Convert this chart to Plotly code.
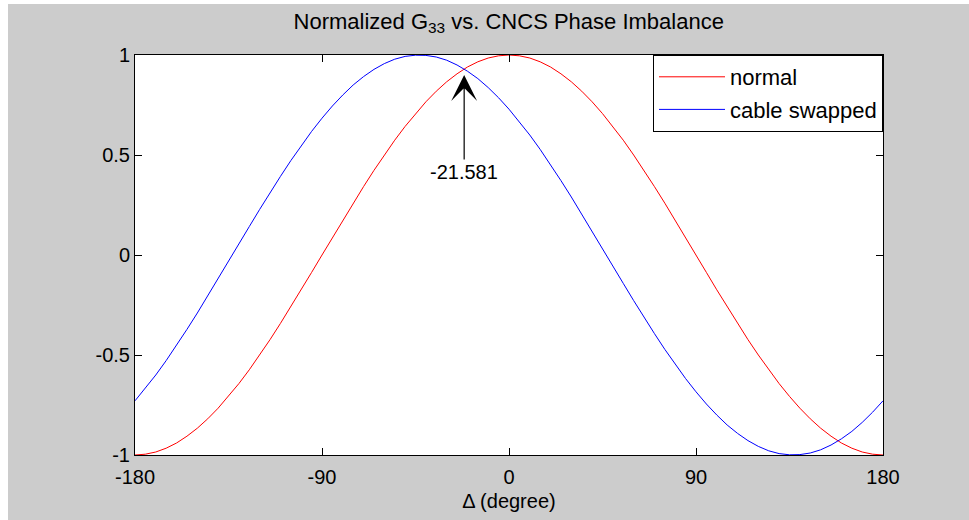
import plotly.graph_objects as go

# Phase imbalance Delta (degree)
delta = [-180, -175, -170, -165, -160, -155, -150, -145, -140, -135, -130, -125,
         -120, -115, -110, -105, -100, -95, -90, -85, -80, -75, -70, -65,
         -60, -55, -50, -45, -40, -35, -30, -25, -20, -15, -10, -5,
         0, 5, 10, 15, 20, 25, 30, 35, 40, 45, 50, 55,
         60, 65, 70, 75, 80, 85, 90, 95, 100, 105, 110, 115,
         120, 125, 130, 135, 140, 145, 150, 155, 160, 165, 170, 175, 180]

normal = [-1.000, -0.996, -0.985, -0.966, -0.940, -0.906, -0.866, -0.819, -0.766, -0.707, -0.643, -0.574,
          -0.500, -0.423, -0.342, -0.259, -0.174, -0.087, 0.000, 0.087, 0.174, 0.259, 0.342, 0.423,
          0.500, 0.574, 0.643, 0.707, 0.766, 0.819, 0.866, 0.906, 0.940, 0.966, 0.985, 0.996,
          1.000, 0.996, 0.985, 0.966, 0.940, 0.906, 0.866, 0.819, 0.766, 0.707, 0.643, 0.574,
          0.500, 0.423, 0.342, 0.259, 0.174, 0.087, 0.000, -0.087, -0.174, -0.259, -0.342, -0.423,
          -0.500, -0.574, -0.643, -0.707, -0.766, -0.819, -0.866, -0.906, -0.940, -0.966, -0.985, -0.996, -1.000]

cable_swapped = [-0.729, -0.667, -0.600, -0.528, -0.452, -0.372, -0.290, -0.205, -0.119, -0.032, 0.055, 0.142,
                 0.228, 0.312, 0.393, 0.472, 0.547, 0.618, 0.684, 0.745, 0.800, 0.850, 0.892, 0.928,
                 0.957, 0.979, 0.993, 0.999, 0.998, 0.990, 0.974, 0.950, 0.919, 0.882, 0.837, 0.786,
                 0.729, 0.667, 0.600, 0.528, 0.452, 0.372, 0.290, 0.205, 0.119, 0.032, -0.055, -0.142,
                 -0.228, -0.312, -0.393, -0.472, -0.547, -0.618, -0.684, -0.745, -0.800, -0.850, -0.892, -0.928,
                 -0.957, -0.979, -0.993, -0.999, -0.998, -0.990, -0.974, -0.950, -0.919, -0.882, -0.837, -0.786, -0.729]

x_ticks = [-180, -90, 0, 90, 180]
x_ticktext = ["-180", "-90", "0", "90", "180"]
y_ticks = [-1, -0.5, 0, 0.5, 1]
y_ticktext = ["-1", "-0.5", "0", "0.5", "1"]

cross_x = -21.581
cross_y = 0.930
label_y = 0.415

FONT = "Liberation Sans, Arial, Helvetica, sans-serif"

fig = go.Figure()
fig.add_trace(go.Scatter(x=delta, y=normal, mode="lines", name="normal",
                         legendgroup="a", line=dict(color="#ff0000", width=1)))
fig.add_trace(go.Scatter(x=delta, y=cable_swapped, mode="lines", name="cable swapped",
                         legendgroup="b", line=dict(color="#0000ff", width=1)))

axis_common = dict(showgrid=False, zeroline=False, showline=True, linecolor="black", linewidth=1,
                   mirror="ticks", ticks="inside", ticklen=7, tickwidth=1, tickcolor="black",
                   automargin=False,
                   tickfont=dict(family=FONT, size=20, color="black"))

fig.update_xaxes(range=[-180, 180], tickvals=x_ticks, ticktext=x_ticktext, ticklabelstandoff=4,
                 title=dict(text="Δ (degree)", font=dict(family=FONT, size=20, color="black"), standoff=6),
                 **axis_common)
fig.update_yaxes(range=[-1, 1], tickvals=y_ticks, ticktext=y_ticktext, **axis_common)

fig.add_annotation(x=cross_x, y=cross_y, ax=cross_x, ay=label_y, xref="x", yref="y",
                   axref="x", ayref="y", text="-21.581", showarrow=True,
                   arrowhead=3, arrowsize=3.6, arrowwidth=1.2, arrowcolor="black", standoff=6,
                   font=dict(family=FONT, size=20, color="black"))

fig.update_layout(
    width=969, height=520,
    margin=dict(l=135, r=86, t=55, b=65, autoexpand=False),
    paper_bgcolor="#cccccc", plot_bgcolor="white",
    title=dict(text="Normalized G<sub>33</sub> vs. CNCS Phase Imbalance", x=0.525, xanchor="center",
               y=0.96, yanchor="middle", font=dict(family=FONT, size=22, color="black")),
    legend=dict(x=1, y=1, xanchor="right", yanchor="top", bgcolor="white", bordercolor="black",
                borderwidth=1, font=dict(family=FONT, size=22, color="black"),
                itemwidth=66, traceorder="grouped", tracegroupgap=1),
    shapes=[
        dict(type="rect", xref="paper", yref="paper", x0=-135/748, x1=-127/748, y0=-65/400, y1=465/400,
             fillcolor="white", line=dict(width=0), layer="below"),
        dict(type="rect", xref="paper", yref="paper", x0=-135/748, x1=834/748, y0=451/400, y1=465/400,
             fillcolor="white", line=dict(width=0), layer="below"),
    ],
)

fig.write_html("out.html")
